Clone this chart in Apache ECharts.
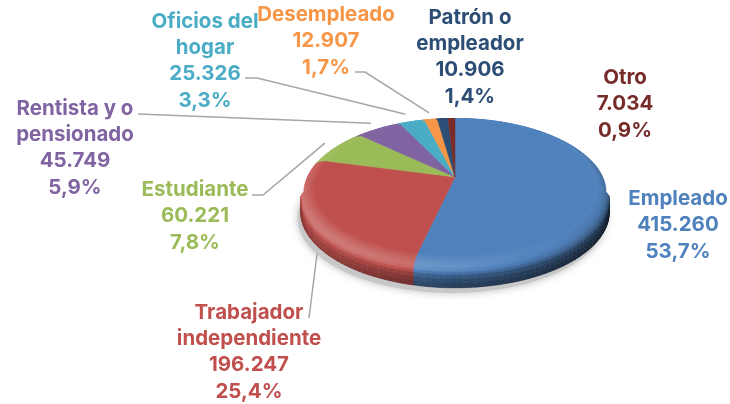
<!DOCTYPE html>
<html><head><meta charset="utf-8">
<script src="https://cdn.jsdelivr.net/npm/echarts@6/dist/echarts.min.js"></script>
<style>html,body{margin:0;padding:0;background:#fff}#c{width:730px;height:404px}</style>
</head><body><div id="c"></div>
<script>
const categories = ['Empleado','Trabajador\nindependiente','Estudiante','Rentista y o\npensionado','Oficios del\nhogar','Desempleado','Patrón o\nempleador','Otro'];
const values = [415260,196247,60221,45749,25326,12907,10906,7034];
const percents = ['53,7%','25,4%','7,8%','5,9%','3,3%','1,7%','1,4%','0,9%'];
const colors = ['#4f81bd','#c0504d','#9bbb59','#8064a2','#4bacc6','#f79646','#2c4d75','#772c2a'];

// layout only
const labelX = [678,249,195,75,205,326,470,625];
const labelY = [225,352,216,148,61,41,57,104];
const leaderFrom = [null,[309,318],[[252,195],[263,195]],[[138,114]],[[245,78],[257,78]],[[355,72],[365,72]],null,null];
const leaderShift = [null,{s:1,dx:5,dy:35},{s:1.06,dx:0,dy:0},{s:1.06,dx:0,dy:0},{s:1.06,dx:-2,dy:-1},{s:1.06,dx:1,dy:0},null,null];
const apex = [455,177], R = 152, K = 72.7, P = 0.173, DEPTH = 24;
// bevel profile: radius, drop, surface tilt (deg), darkening
const pr = [.92,.935,.95,.965,.98,.99,1,1,1,1,1,.99];
const pz = [0,.3,.8,1.6,3,4.5,7,10,14,18,22,DEPTH];
const pt = [0,6,12,20,32,45,62,78,88,90,90,105];
const pd = [1,1,1,1,1,1,.95,.8,.66,.58,.52,.47];
const light = [-0.55,0.5,0.67];

const total = values.reduce((a,b)=>a+b,0);
function project(theta,r,z,s){
  const u=Math.sin(theta)*r*(s||1), v=-Math.cos(theta)*r*(s||1), f=1/(1-P*v);
  return [apex[0]+R*u*f, apex[1]+K*v*f+(z||0)];
}
function hex(c){return [1,3,5].map(i=>parseInt(c.substr(i,2),16));}
function shade(col,k){
  const c=hex(col);
  const out = k>=1 ? c.map(x=>x+(255-x)*Math.min(1,(k-1))) : c.map(x=>x*Math.max(0,k));
  return 'rgb('+out.map(Math.round).join(',')+')';
}
function facet(theta,tilt,dark){
  const T=tilt*Math.PI/180, sT=Math.sin(T), cT=Math.cos(T), v=-Math.cos(theta);
  const nl=sT*Math.sin(theta)*light[0]+sT*v*light[1]+cT*light[2];
  const fade=Math.max(0,Math.min(1,(v+0.6)/0.5));
  let d=nl-light[2];
  d = d>0 ? d*0.7 : d*0.55;
  const dk=dark+(1-dark)*0.55*Math.max(0,-Math.sin(theta));
  return (1+d*fade)*(1-(1-dk)*fade);
}
function fmt(n){return String(n).replace(/\B(?=(\d{3})+$)/g,'.');}

function renderItem(params,api){
  const i=params.dataIndex, val=api.value(0);
  let before=0; for(let k=0;k<i;k++) before+=values[k];
  const a0=before/total*2*Math.PI, a1=(before+val)/total*2*Math.PI;
  const children=[];
  if(i===0){
    const pts=[]; for(let d=0;d<360;d+=4) pts.push(project(d*Math.PI/180,1,DEPTH+1));
    children.push({type:'polygon',shape:{points:pts.map(p=>[p[0]-3,p[1]+3])},
      style:{fill:'#c8c8c8',shadowBlur:9,shadowColor:'#c0c0c0'},silent:true});
  }
  const step=2*Math.PI/180, n=Math.max(2,Math.ceil((a1-a0)/step));
  const top=[apex.slice()];
  for(let s=0;s<=n;s++) top.push(project(a0+(a1-a0)*s/n,pr[0],0));
  children.push({type:'polygon',shape:{points:top},style:{fill:colors[i],stroke:colors[i],lineWidth:0.5}});
  for(let s=0;s<n;s++){
    const t0=a0+(a1-a0)*s/n, t1=a0+(a1-a0)*(s+1)/n, tm=(t0+t1)/2;
    const vm=-Math.cos(tm);
    for(let p=0;p<pr.length-1;p++){
      if(pz[p]>=3 && vm<0.17) continue;
      const col=shade(colors[i],facet(tm,(pt[p]+pt[p+1])/2,(pd[p]+pd[p+1])/2));
      children.push({type:'polygon',shape:{points:[project(t0,pr[p],pz[p]),project(t1,pr[p],pz[p]),project(t1,pr[p+1],pz[p+1]),project(t0,pr[p+1],pz[p+1])]},
        style:{fill:col,stroke:col,lineWidth:0.5}});
    }
  }
  return {type:'group',children};
}
function renderLabel(params,api){
  const i=params.dataIndex, val=api.value(0);
  let before=0; for(let k=0;k<i;k++) before+=values[k];
  const mid=(before+val/2)/total*2*Math.PI;
  const children=[];
  if(leaderFrom[i]){
    const pts=(Array.isArray(leaderFrom[i][0])?leaderFrom[i]:[leaderFrom[i]]).slice();
    const sh=leaderShift[i], e=project(mid,1,0,sh.s);
    pts.push([e[0]+sh.dx,e[1]+sh.dy]);
    children.push({type:'polyline',shape:{points:pts},style:{fill:'none',stroke:'#a6a6a6',lineWidth:1.5}});
  }
  children.push({type:'text',style:{
    text:categories[i]+'\n'+fmt(val)+'\n'+percents[i],
    x:labelX[i],y:labelY[i],align:'center',verticalAlign:'middle',
    fill:colors[i],font:'700 20.5px Inter',lineHeight:26.4}});
  return {type:'group',children};
}
const chart=echarts.init(document.getElementById('c'),null,{renderer:'canvas'});
const data=values.map((v,i)=>({name:categories[i],value:v}));
chart.setOption({
  animation:false,
  backgroundColor:'#fff',
  series:[
    {type:'custom',coordinateSystem:'none',data,renderItem,silent:true,clip:false},
    {type:'custom',coordinateSystem:'none',data,renderItem:renderLabel,silent:true,clip:false}
  ]
});
</script></body></html>
